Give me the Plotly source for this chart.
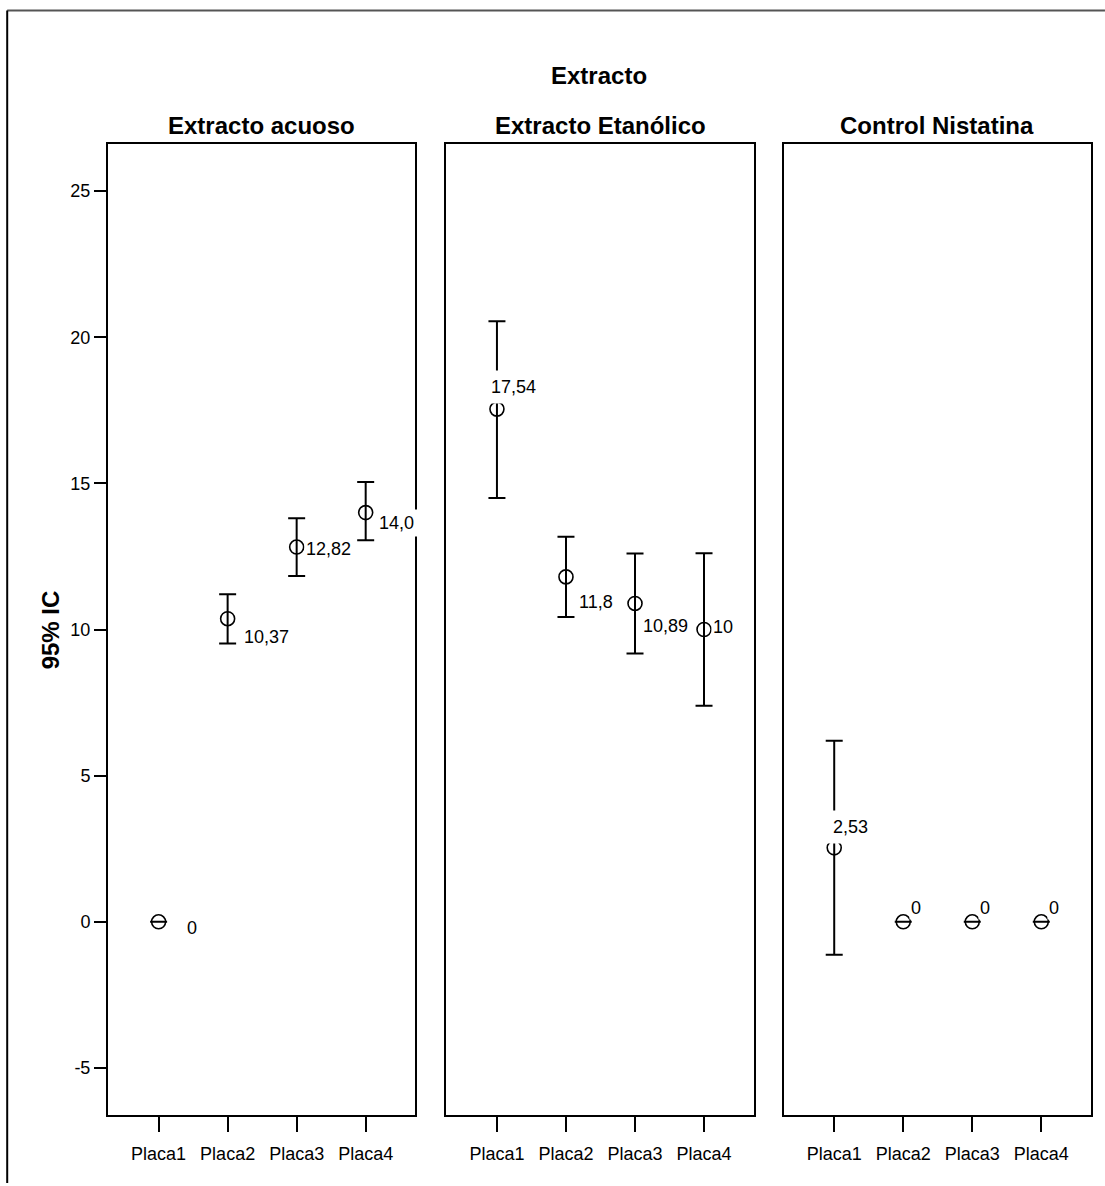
import plotly.graph_objects as go

# ---------------- data ----------------
categories = ["Placa1", "Placa2", "Placa3", "Placa4"]
panel_titles = ["Extracto acuoso", "Extracto Etanólico", "Control Nistatina"]
super_title = "Extracto"
y_title = "95% IC"
y_ticks = [-5, 0, 5, 10, 15, 20, 25]

acuoso_mean = [0.0, 10.37, 12.82, 14.0]
acuoso_low = [0.0, 9.52, 11.83, 13.05]
acuoso_high = [0.0, 11.21, 13.81, 15.05]
acuoso_labels = ["0", "10,37", "12,82", "14,0"]

etanol_mean = [17.54, 11.8, 10.89, 10.0]
etanol_low = [14.50, 10.43, 9.18, 7.39]
etanol_high = [20.55, 13.17, 12.60, 12.61]
etanol_labels = ["17,54", "11,8", "10,89", "10"]

control_mean = [2.53, 0.0, 0.0, 0.0]
control_low = [-1.13, 0.0, 0.0, 0.0]
control_high = [6.19, 0.0, 0.0, 0.0]
control_labels = ["2,53", "0", "0", "0"]

# ---------------- style / layout ----------------
W, H = 1105, 1186
L, R, T, B = 108, 1093, 143.5, 1115
FONT = "Liberation Sans, Arial, Helvetica, sans-serif"
domains = [[0.0, 0.3127], [0.3442, 0.6569], [0.6873, 1.0]]
x_range = [-0.733, 3.72]
y_range = [-6.61, 26.61]

# label offsets in px (xshift, yshift, borderpad) per panel / point
label_style = [
    [(26, -6, 1), (14, -18, 1), (7, -2, 1), (9, -10, 3)],
    [(-13, 22, 6), (11, -25, 1), (6, -23, 1), (7, 3, 1)],
    [(-8, 21, 6), (6, 14, 1), (6, 14, 1), (6, 14, 1)],
]

series = [
    (acuoso_mean, acuoso_low, acuoso_high, acuoso_labels),
    (etanol_mean, etanol_low, etanol_high, etanol_labels),
    (control_mean, control_low, control_high, control_labels),
]

fig = go.Figure()
annotations = []

for i, (m, lo, hi, labs) in enumerate(series):
    xa = "x" if i == 0 else f"x{i+1}"
    ya = "y" if i == 0 else f"y{i+1}"
    fig.add_trace(go.Scatter(
        x=categories, y=m, xaxis=xa, yaxis=ya, mode="markers",
        marker=dict(symbol="circle-open", size=14, color="black",
                    line=dict(width=1.6, color="black")),
        error_y=dict(type="data", symmetric=False,
                     array=[h - v for h, v in zip(hi, m)],
                     arrayminus=[v - l for v, l in zip(m, lo)],
                     thickness=2, width=8.5, color="black"),
        showlegend=False, hoverinfo="skip",
    ))
    for j, (c, v, t) in enumerate(zip(categories, m, labs)):
        xs, ys, pad = label_style[i][j]
        annotations.append(dict(
            x=c, y=v, xref=xa, yref=ya, text=t, showarrow=False,
            xanchor="left", yanchor="middle", xshift=xs, yshift=ys,
            bgcolor="white", borderpad=pad,
            font=dict(family=FONT, size=18, color="black"),
        ))
    # panel title
    annotations.append(dict(
        x=(domains[i][0] + domains[i][1]) / 2, y=(B - 125) / (B - T),
        xref="paper", yref="paper", text=f"<b>{panel_titles[i]}</b>",
        showarrow=False, xanchor="center", yanchor="middle",
        font=dict(family=FONT, size=24, color="black"),
    ))

annotations.append(dict(
    x=(600 - L) / (R - L), y=(B - 75) / (B - T), xref="paper", yref="paper",
    text=f"<b>{super_title}</b>", showarrow=False, xanchor="center",
    yanchor="middle", font=dict(family=FONT, size=24, color="black"),
))
annotations.append(dict(
    x=(50 - L) / (R - L), y=(B - 630) / (B - T), xref="paper", yref="paper",
    text=f"<b>{y_title}</b>", showarrow=False, textangle=-90,
    xanchor="center", yanchor="middle",
    font=dict(family=FONT, size=24, color="black"),
))

axis_common = dict(showgrid=False, zeroline=False, showline=True, mirror=True,
                   linecolor="black", linewidth=2)

layout = dict(
    width=W, height=H,
    margin=dict(l=L, r=W - R, t=T, b=H - B, pad=0),
    paper_bgcolor="white", plot_bgcolor="white",
    font=dict(family=FONT, size=18, color="black"),
    annotations=annotations,
    shapes=[
        dict(type="line", xref="paper", yref="paper",
             x0=(7 - L) / (R - L), x1=(W + 2 - L) / (R - L),
             y0=(B - 10) / (B - T), y1=(B - 10) / (B - T),
             line=dict(color="#555555", width=2)),
        dict(type="line", xref="paper", yref="paper",
             x0=(7 - L) / (R - L), x1=(7 - L) / (R - L),
             y0=(B - 10) / (B - T), y1=(B - 1183) / (B - T),
             line=dict(color="black", width=2)),
    ],
)

for i in range(3):
    xk = "xaxis" if i == 0 else f"xaxis{i+1}"
    yk = "yaxis" if i == 0 else f"yaxis{i+1}"
    layout[xk] = dict(axis_common, domain=domains[i], type="category",
                      categoryorder="array", categoryarray=categories,
                      range=x_range, ticks="outside", ticklen=15, tickwidth=2,
                      tickcolor="black", ticklabelstandoff=6,
                      tickfont=dict(family=FONT, size=18, color="black"),
                      anchor="y" if i == 0 else f"y{i+1}")
    ydict = dict(axis_common, range=y_range, domain=[0, 1],
                 anchor="x" if i == 0 else f"x{i+1}")
    if i == 0:
        ydict.update(tickmode="array", tickvals=y_ticks,
                     ticktext=[str(v) for v in y_ticks], ticks="outside",
                     ticklen=12, tickwidth=2, tickcolor="black",
                     tickfont=dict(family=FONT, size=18, color="black"))
    else:
        ydict.update(showticklabels=False, ticks="")
    layout[yk] = ydict

fig.update_layout(**layout)
fig.write_html("out.html", config={"displayModeBar": False},
               post_script="document.body.style.margin='0';")
